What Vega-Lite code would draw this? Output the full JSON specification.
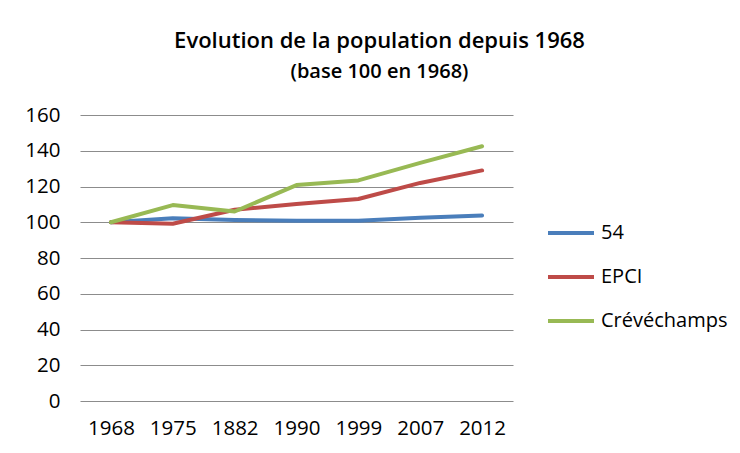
{
  "$schema": "https://vega.github.io/schema/vega-lite/v6.json",
  "autosize": "none",
  "width": 433,
  "height": 286,
  "padding": {"left": 80, "top": 115, "right": 227, "bottom": 52},
  "background": "white",
  "config": {
    "font": "Open Sans",
    "view": {"stroke": null}
  },
  "title": {
    "text": "Evolution de la population depuis 1968",
    "subtitle": "(base 100 en 1968)",
    "anchor": "middle",
    "frame": "group",
    "dx": 83,
    "offset": 22,
    "font": "Open Sans",
    "fontSize": 22,
    "fontWeight": 600,
    "color": "#000000",
    "subtitleFont": "Open Sans",
    "subtitleFontSize": 20,
    "subtitleFontWeight": 600,
    "subtitleColor": "#000000",
    "subtitlePadding": 9
  },
  "data": {
    "values": [
      {"annee": "1968", "serie": "54", "valeur": 100},
      {"annee": "1975", "serie": "54", "valeur": 102.2},
      {"annee": "1882", "serie": "54", "valeur": 101.3},
      {"annee": "1990", "serie": "54", "valeur": 100.8},
      {"annee": "1999", "serie": "54", "valeur": 100.8},
      {"annee": "2007", "serie": "54", "valeur": 102.5},
      {"annee": "2012", "serie": "54", "valeur": 103.8},
      {"annee": "1968", "serie": "EPCI", "valeur": 100},
      {"annee": "1975", "serie": "EPCI", "valeur": 99.2},
      {"annee": "1882", "serie": "EPCI", "valeur": 107},
      {"annee": "1990", "serie": "EPCI", "valeur": 110.2},
      {"annee": "1999", "serie": "EPCI", "valeur": 113},
      {"annee": "2007", "serie": "EPCI", "valeur": 122},
      {"annee": "2012", "serie": "EPCI", "valeur": 129},
      {"annee": "1968", "serie": "Crévéchamps", "valeur": 100},
      {"annee": "1975", "serie": "Crévéchamps", "valeur": 109.6},
      {"annee": "1882", "serie": "Crévéchamps", "valeur": 106},
      {"annee": "1990", "serie": "Crévéchamps", "valeur": 120.8},
      {"annee": "1999", "serie": "Crévéchamps", "valeur": 123.4},
      {"annee": "2007", "serie": "Crévéchamps", "valeur": 133.2},
      {"annee": "2012", "serie": "Crévéchamps", "valeur": 142.5}
    ]
  },
  "mark": {"type": "line", "strokeWidth": 4, "strokeCap": "round", "strokeJoin": "round"},
  "encoding": {
    "x": {
      "field": "annee",
      "type": "ordinal",
      "sort": null,
      "scale": {"type": "point", "padding": 0.5},
      "axis": {
        "title": null,
        "labelAngle": 0,
        "labelFont": "Open Sans",
        "labelFontSize": 20.5,
        "labelColor": "#000000",
        "labelPadding": 17,
        "ticks": false,
        "domain": false,
        "grid": false
      }
    },
    "y": {
      "field": "valeur",
      "type": "quantitative",
      "scale": {"domain": [0, 160], "nice": false, "zero": true},
      "axis": {
        "title": null,
        "values": [0, 20, 40, 60, 80, 100, 120, 140, 160],
        "labelFont": "Open Sans",
        "labelFontSize": 20.5,
        "labelColor": "#000000",
        "labelPadding": 20,
        "ticks": false,
        "domain": false,
        "grid": true,
        "gridColor": "#8c8c8c",
        "gridWidth": 1.2
      }
    },
    "color": {
      "field": "serie",
      "type": "nominal",
      "sort": ["54", "EPCI", "Crévéchamps"],
      "scale": {"domain": ["54", "EPCI", "Crévéchamps"], "range": ["#4a7ebb", "#be4b48", "#98b954"]},
      "legend": {
        "title": null,
        "orient": "none",
        "legendX": 466,
        "legendY": 93,
        "symbolType": "stroke",
        "symbolSize": 2116,
        "symbolStrokeWidth": 4,
        "labelFont": "Open Sans",
        "labelFontSize": 20,
        "labelColor": "#000000",
        "labelOffset": 5,
        "rowPadding": 9
      }
    }
  }
}
